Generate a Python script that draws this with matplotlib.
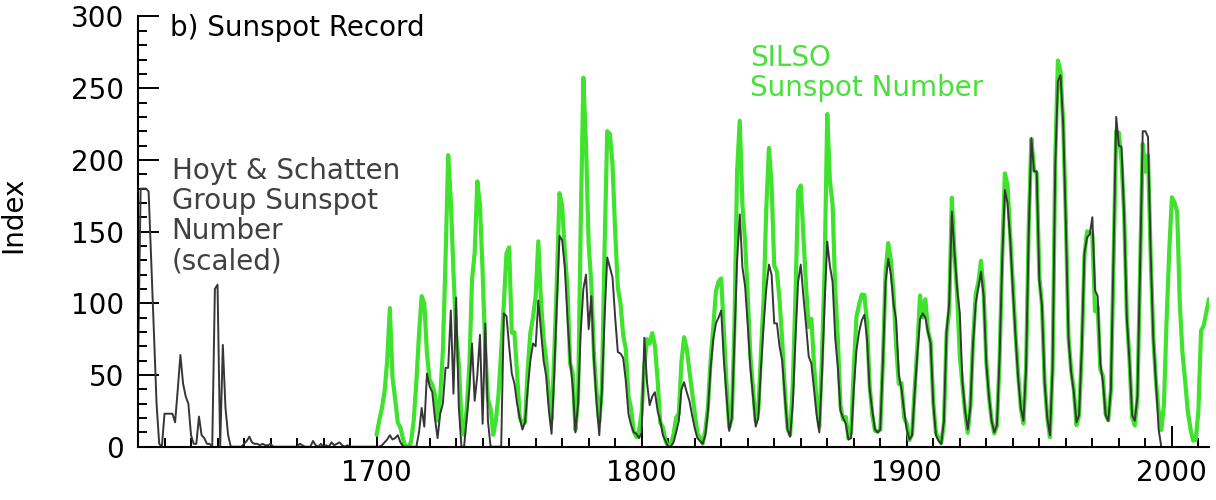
import matplotlib
matplotlib.use("Agg")
import matplotlib.pyplot as plt
from matplotlib.ticker import MultipleLocator

# SILSO yearly sunspot number, 1700-2014
silso_years = list(range(1700, 2015))
silso_values = [
    8.3, 18.3, 26.7, 38.3, 60.0, 96.7, 48.3, 33.3, 16.7, 13.3,
    5.0, 0.0, 0.0, 3.3, 18.3, 45.0, 78.3, 105.0, 100.0, 65.0,
    46.7, 43.3, 36.7, 18.3, 35.0, 66.7, 130.0, 203.3, 171.7, 121.7,
    78.3, 58.3, 18.3, 8.3, 26.7, 56.7, 116.7, 135.0, 185.0, 168.3,
    121.7, 66.7, 33.3, 26.7, 8.3, 18.3, 36.7, 66.7, 100.0, 134.8,
    139.0, 79.5, 79.7, 51.2, 20.3, 16.0, 17.0, 54.0, 79.3, 90.0,
    104.8, 143.2, 102.0, 75.2, 60.7, 34.8, 19.0, 63.0, 116.3, 176.8,
    168.0, 136.0, 110.8, 58.0, 51.0, 11.7, 33.0, 154.2, 257.3, 209.8,
    141.3, 113.5, 64.2, 38.0, 17.0, 40.2, 138.2, 220.0, 218.2, 196.8,
    149.8, 111.0, 100.0, 78.2, 68.3, 35.5, 26.7, 10.7, 6.8, 11.3,
    24.2, 56.7, 75.0, 71.8, 79.2, 70.3, 46.8, 16.8, 13.5, 4.2,
    0.0, 2.3, 8.3, 20.3, 23.2, 59.0, 76.3, 68.3, 52.9, 38.5,
    24.2, 9.2, 6.3, 2.2, 11.4, 28.2, 59.9, 83.0, 108.5, 115.2,
    117.4, 80.8, 44.3, 13.4, 19.5, 85.8, 192.7, 227.3, 168.7, 143.0,
    105.5, 63.3, 40.3, 18.1, 25.1, 65.8, 102.7, 166.3, 208.3, 182.5,
    126.3, 122.0, 102.7, 74.1, 39.0, 12.7, 8.2, 43.4, 104.4, 178.3,
    182.2, 146.6, 112.1, 83.5, 89.2, 57.8, 30.7, 13.9, 62.8, 123.6,
    232.0, 185.3, 169.2, 110.1, 74.5, 28.3, 18.9, 20.7, 5.7, 10.0,
    53.7, 90.5, 99.0, 106.1, 105.8, 86.3, 42.4, 21.8, 11.2, 10.4,
    11.8, 59.5, 121.7, 142.0, 130.0, 106.6, 69.4, 43.8, 44.4, 20.2,
    15.7, 4.6, 8.5, 40.8, 70.1, 105.5, 90.1, 102.8, 80.9, 73.2,
    30.9, 9.5, 6.0, 2.4, 16.1, 79.0, 95.0, 173.6, 134.6, 105.7,
    62.7, 43.5, 23.7, 9.7, 27.9, 74.0, 106.5, 114.7, 129.7, 108.2,
    59.4, 35.1, 18.6, 9.2, 14.6, 60.2, 132.8, 190.6, 182.6, 148.0,
    113.0, 79.2, 50.8, 27.1, 16.1, 55.3, 154.3, 214.7, 193.0, 190.7,
    118.9, 98.3, 45.0, 20.1, 6.6, 54.2, 200.7, 269.3, 261.7, 225.1,
    159.0, 76.4, 53.4, 39.9, 15.0, 22.0, 66.8, 132.9, 150.2, 149.4,
    148.0, 94.4, 97.6, 54.1, 49.2, 22.5, 18.4, 39.3, 131.0, 220.1,
    218.9, 198.9, 162.4, 91.0, 60.5, 20.6, 14.8, 33.9, 123.0, 211.1,
    191.8, 203.3, 133.0, 76.1, 44.9, 25.1, 11.6, 28.9, 88.3, 136.3,
    173.9, 170.4, 163.6, 99.3, 65.3, 45.8, 24.7, 12.6, 4.2, 4.8,
    24.9, 80.8, 84.5, 94.0, 103.0,
]

# Hoyt & Schatten group sunspot number (scaled), 1610-1996
group_years = list(range(1610, 1997))
group_values = [
    55, 180, 180, 180, 178, 130, 80, 30, 2, 0,
    23, 23, 23, 23, 17, 40, 64, 44, 35, 30,
    8, 2, 2, 21, 8, 6, 2, 2, 0, 110,
    113, 0, 71, 27, 8, 0, 0, 0, 0, 0,
    2, 4, 7, 3, 2, 2, 1, 2, 1, 1,
    2, 0, 0, 0, 0, 0, 0, 0, 0, 0,
    0, 2, 1, 0, 0, 0, 4, 1, 0, 2,
    0, 1, 0, 3, 1, 2, 3, 1, 0, 1,
    0, 0, 0, 0, 0, 0, 0, 0, 0, 0,
    0, 0, 1, 3, 5, 8, 5, 6, 8, 3,
    0, 0, 0, 0, 0, 0, 10, 27, 14, 51,
    42, 38, 20, 6, 23, 30, 55, 55, 95, 37,
    104, 28, 0, 0, 20, 40, 72, 32, 50, 78,
    16, 86, 18, 0, 0, 0, 0, 0, 93, 91,
    70, 51, 44, 30, 20, 12, 17, 40, 60, 72,
    70, 102, 81, 60, 49, 25, 9, 50, 100, 147,
    144, 125, 90, 60, 42, 10, 30, 80, 110, 120,
    82, 105, 60, 30, 8, 40, 90, 132, 125, 118,
    90, 66, 65, 62, 46, 23, 15, 10, 9, 6,
    10, 76, 45, 29, 35, 38, 25, 18, 8, 4,
    0, 0, 3, 10, 18, 40, 45, 38, 32, 22,
    13, 6, 4, 2, 8, 25, 55, 75, 86, 90,
    95, 60, 35, 11, 20, 75, 130, 162, 125, 112,
    85, 55, 35, 14, 20, 55, 85, 110, 127, 120,
    86, 86, 70, 60, 35, 12, 7, 30, 75, 115,
    127, 105, 85, 63, 58, 40, 22, 10, 50, 100,
    143, 126, 115, 76, 55, 25, 20, 16, 5, 6,
    40, 67, 80, 88, 92, 75, 40, 25, 12, 10,
    12, 60, 115, 131, 120, 100, 88, 50, 40, 25,
    12, 5, 8, 38, 65, 89, 93, 90, 80, 72,
    30, 8, 4, 2, 18, 80, 100, 164, 135, 110,
    93, 45, 25, 12, 28, 72, 100, 111, 122, 105,
    58, 35, 18, 10, 15, 62, 130, 179, 170, 145,
    110, 78, 48, 27, 18, 55, 150, 215, 192, 192,
    116, 98, 45, 20, 8, 55, 195, 255, 259, 225,
    155, 76, 52, 38, 17, 22, 68, 135, 146, 148,
    160, 109, 105, 58, 45, 22, 18, 40, 135, 230,
    210, 209, 160, 90, 60, 22, 18, 35, 125, 220,
    220, 216, 135, 75, 45, 12, 0,
]

green = "#3fe22c"
dark = "#363636"
fs = 20

plt.rcParams["font.family"] = ["DejaVu Sans"]

fig = plt.figure(figsize=(12.16, 5.0), dpi=100)
ax = fig.add_axes([138 / 1216, 53.3 / 500, 1071 / 1216, 430.2 / 500])

ax.plot(silso_years, silso_values, color=green, lw=3.0,
        solid_joinstyle="round", solid_capstyle="round")
ax.plot(group_years, group_values, color=dark, lw=1.4)

ax.set_xlim(1610, 2014)
ax.set_ylim(0, 300)

for side in ("top", "right"):
    ax.spines[side].set_visible(False)
for side in ("left", "bottom"):
    ax.spines[side].set_linewidth(1.5)

ax.xaxis.set_major_locator(MultipleLocator(100))
ax.xaxis.set_minor_locator(MultipleLocator(10))
ax.yaxis.set_major_locator(MultipleLocator(50))
ax.yaxis.set_minor_locator(MultipleLocator(10))
ax.tick_params(which="both", direction="in", width=1.4, labelsize=fs)
ax.tick_params(which="major", length=15)
ax.tick_params(which="minor", length=6.5)
ax.tick_params(axis="x", pad=9)
ax.tick_params(axis="y", pad=10)

ax.set_ylabel("Index", fontsize=fs)
ax.yaxis.set_label_coords(-0.103, 0.54)

ax.text(0.03, 0.974, "b) Sunspot Record", transform=ax.transAxes,
        fontsize=fs, ha="left", va="center")
ax.text(1622.7, 202, "Hoyt & Schatten\nGroup Sunspot\nNumber\n(scaled)",
        fontsize=fs, color="#404040", ha="left", va="top", linespacing=1.1)
ax.text(1841, 281, "SILSO\nSunspot Number", fontsize=fs, color="#48e03a",
        ha="left", va="top", linespacing=1.1)

fig.savefig("out.png", dpi=100)
